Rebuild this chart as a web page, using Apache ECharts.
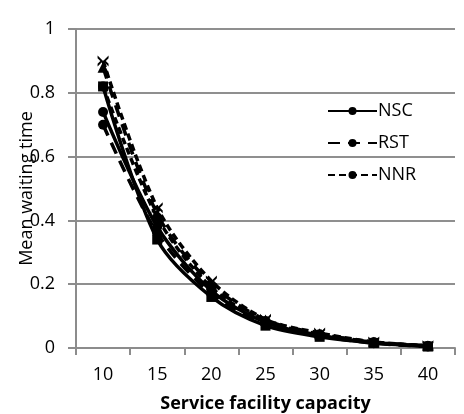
<!DOCTYPE html>
<html><head><meta charset="utf-8">
<script src="https://cdn.jsdelivr.net/npm/echarts@6/dist/echarts.min.js"></script>
<style>html,body{margin:0;padding:0;background:#fff}#c{width:464px;height:414px}</style>
</head><body><div id="c"></div>
<script>
const categories = ['10','15','20','25','30','35','40'];
const yTicks = [0, 0.2, 0.4, 0.6, 0.8, 1];
const nscValues  = [0.74, 0.38, 0.18, 0.080, 0.040, 0.017, 0.006];
const rstValues  = [0.70, 0.36, 0.17, 0.075, 0.038, 0.015, 0.005];
const nnrValues  = [0.82, 0.41, 0.19, 0.085, 0.043, 0.018, 0.006];
const extraA = [0.82, 0.34, 0.16, 0.070, 0.035, 0.016, 0.005];
const extraB = [0.88, 0.42, 0.20, 0.088, 0.045, 0.018, 0.007];
const extraC = [0.90, 0.44, 0.21, 0.090, 0.047, 0.019, 0.007];
const legendNames = ['NSC','RST','NNR'];

const font = 'Open Sans';
function mk(name, data, type, symbol, size){
  return {name, type:'line', data, smooth:0.3, symbol, symbolSize:size, showSymbol:true,
    lineStyle:{color:'#000', width:3.5, type}, itemStyle:{color:'#000'}, z: 3};
}
const chart = echarts.init(document.getElementById('c'), null, {renderer:'canvas'});
chart.setOption({
  animation:false,
  backgroundColor:'#fff',
  grid:{left:76, top:29, right:9, bottom:66, containLabel:false, outerBoundsMode:'none'},
  legend:{data:legendNames, orient:'vertical', left:327, top:102, padding:0, itemWidth:49, itemHeight:10, itemGap:14,
    textStyle:{fontFamily:font, fontSize:18, color:'#000', padding:[0,0,0,-4]}},
  xAxis:{type:'category', data:categories, boundaryGap:true,
    axisLine:{lineStyle:{color:'#8c8c8c', width:2}},
    axisTick:{show:true, length:7, lineStyle:{color:'#8c8c8c', width:2}},
    axisLabel:{fontFamily:font, fontSize:18, color:'#000', margin:18},
    name:'Service facility capacity', nameLocation:'middle', nameGap:47, nameMoveOverlap:false,
    nameTextStyle:{fontFamily:font, fontSize:18, fontWeight:'bold', color:'#000'}},
  yAxis:{type:'value', min:0, max:1, interval:0.2,
    axisLine:{show:true, lineStyle:{color:'#8c8c8c', width:2}},
    axisTick:{show:true, length:8, lineStyle:{color:'#8c8c8c', width:2}},
    axisLabel:{fontFamily:font, fontSize:18, color:'#000', margin:21},
    splitLine:{lineStyle:{color:'#8f8f8f', width:2}},
    name:'Mean waiting time', nameLocation:'middle', nameGap:40, nameMoveOverlap:false,
    nameTextStyle:{fontFamily:font, fontSize:18, color:'#000'}},
  series:[
    mk('NSC', nscValues, 'solid', 'circle', 10),
    mk('RST', rstValues, [12,8], 'circle', 10),
    mk('NNR', nnrValues, [7,4], 'circle', 10),
    mk('Series 4', extraA, 'solid', 'rect', 10),
    mk('Series 5', extraB, [12,8], 'triangle', 11),
    mk('Series 6', extraC, [7,4], 'path://M0,0L4,4L8,0L8,2L6,4L8,6L8,8L4,4L0,8L0,6L2,4L0,2Z', 11)
  ]
});
</script></body></html>
